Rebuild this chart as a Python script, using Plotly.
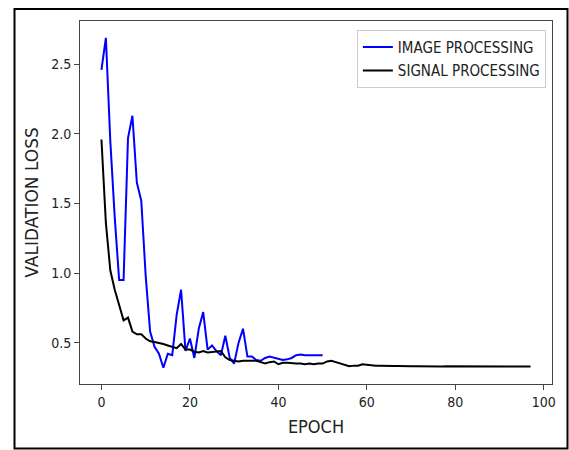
import plotly.graph_objects as go

# Validation loss per epoch for the two models
image_epochs = list(range(0, 51))
image_loss = [
    2.46, 2.69, 1.95, 1.40, 0.95, 0.95, 1.97, 2.13, 1.65, 1.52,
    0.98, 0.58, 0.47, 0.42, 0.32, 0.42, 0.41, 0.70, 0.88, 0.44,
    0.53, 0.39, 0.60, 0.72, 0.45, 0.48, 0.44, 0.41, 0.55, 0.39,
    0.35, 0.50, 0.60, 0.40, 0.40, 0.375, 0.37, 0.39, 0.40, 0.39,
    0.38, 0.375, 0.38, 0.39, 0.41, 0.415, 0.41, 0.41, 0.415, 0.41,
    0.41,
]

signal_epochs = list(range(0, 98))
signal_loss = [
    1.96, 1.36, 1.02, 0.88, 0.77, 0.66, 0.68, 0.58, 0.56, 0.56,
    0.53, 0.51, 0.505, 0.50, 0.49, 0.48, 0.47, 0.46, 0.49, 0.45,
    0.45, 0.435, 0.43, 0.44, 0.43, 0.435, 0.44, 0.44, 0.395, 0.375,
    0.37, 0.365, 0.37, 0.37, 0.375, 0.37, 0.36, 0.35, 0.36, 0.365,
    0.345, 0.355, 0.355, 0.35, 0.35, 0.35, 0.345, 0.35, 0.345, 0.35,
    0.35, 0.365, 0.37, 0.36, 0.35, 0.34, 0.33, 0.335, 0.335, 0.345,
    0.34, 0.34, 0.335, 0.335, 0.333, 0.33, 0.332, 0.333, 0.331, 0.33,
    0.33, 0.331, 0.33, 0.329, 0.33, 0.331, 0.33, 0.329, 0.33, 0.33,
    0.329, 0.33, 0.33, 0.329, 0.33, 0.33, 0.329, 0.329, 0.33, 0.329,
    0.329, 0.33, 0.329, 0.328, 0.329, 0.328, 0.328, 0.328,
]

x_ticks = [0, 20, 40, 60, 80, 100]
y_ticks = [0.5, 1.0, 1.5, 2.0, 2.5]

FONT = "DejaVu Sans Condensed, DejaVu Sans, sans-serif"

fig = go.Figure()
fig.add_trace(go.Scatter(
    x=image_epochs, y=image_loss, mode="lines", name="IMAGE PROCESSING",
    line=dict(color="#0000ff", width=2), legendgroup="a",
))
fig.add_trace(go.Scatter(
    x=signal_epochs, y=signal_loss, mode="lines", name="SIGNAL PROCESSING",
    line=dict(color="#000000", width=2), legendgroup="b",
))

axis_common = dict(
    showline=True, mirror=True, linecolor="#444444", linewidth=1,
    ticks="outside", ticklen=5, tickwidth=1, tickcolor="#444444",
    showgrid=False, zeroline=False,
    tickfont=dict(family=FONT, size=14, color="#222222"),
)

fig.update_xaxes(
    range=[-4.85, 101.85], tickvals=x_ticks,
    title=dict(text="EPOCH", font=dict(family=FONT, size=18, color="#222222"), standoff=11),
    **axis_common,
)
fig.update_yaxes(
    range=[0.203, 2.811], tickvals=y_ticks, tickformat=".1f",
    title=dict(text="VALIDATION LOSS", font=dict(family="DejaVu Sans", size=17, color="#222222"), standoff=8),
    **axis_common,
)

fig.update_layout(
    width=569, height=450,
    margin=dict(l=80, r=17, t=21, b=66),
    paper_bgcolor="white", plot_bgcolor="white",
    legend=dict(
        x=0.987, y=0.976, xanchor="right", yanchor="top",
        bordercolor="#cccccc", borderwidth=1, bgcolor="white",
        font=dict(family=FONT, size=15, color="#222222"),
        traceorder="grouped", tracegroupgap=1,
    ),
    shapes=[dict(
        type="rect", xref="paper", yref="paper",
        x0=(14.5 - 80) / 472, x1=(567.5 - 80) / 472,
        y0=(384 - 448.5) / 363, y1=(384 - 9) / 363,
        line=dict(color="black", width=2), layer="below",
    )],
)

fig.write_html("out.html")
